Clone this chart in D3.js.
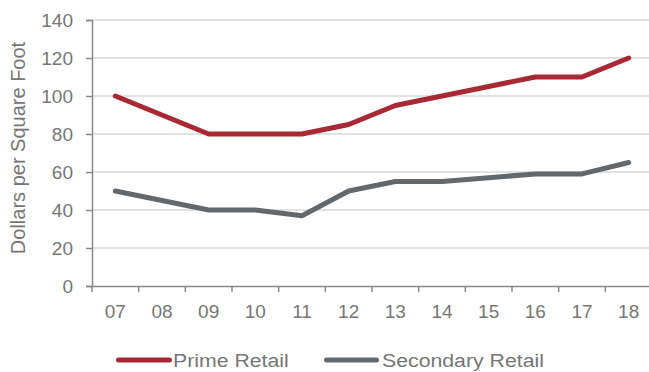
<!DOCTYPE html>
<html>
<head>
<meta charset="utf-8">
<script src="https://cdn.jsdelivr.net/npm/d3@7"></script>
<style>
  html, body { margin: 0; padding: 0; background: #fff; }
  svg { display: block; font-family: "Liberation Sans", Arial, sans-serif; }
</style>
</head>
<body>
<svg id="chart" width="649" height="372"></svg>
<script>
// Rent per square foot, prime vs secondary retail
const years = ["07", "08", "09", "10", "11", "12", "13", "14", "15", "16", "17", "18"];
const primeRetail = [100, 90, 80, 80, 80, 85, 95, 100, 105, 110, 110, 120];
const secondaryRetail = [50, 45, 40, 40, 37, 50, 55, 55, 57, 59, 59, 65];
const yTicks = [0, 20, 40, 60, 80, 100, 120, 140];
const seriesNames = ["Prime Retail", "Secondary Retail"];
const seriesColors = ["#A82833", "#63686C"];

const svg = d3.select("#chart");
const plotLeft = 92, plotRight = 652, plotTop = 20, plotBottom = 286;
const textColor = "#767676";
const fontFamily = "Liberation Sans, Arial, sans-serif";

const x = d3.scaleBand().domain(years).range([plotLeft, plotRight]);
const y = d3.scaleLinear().domain([0, 140]).range([plotBottom, plotTop]);

// horizontal gridlines
svg.append("g")
  .selectAll("line")
  .data(yTicks.filter(d => d > 0))
  .join("line")
  .attr("x1", plotLeft).attr("x2", 649)
  .attr("y1", d => y(d)).attr("y2", d => y(d))
  .attr("stroke", "#d9d9d9").attr("stroke-width", 1.5);

// y axis
const yAxis = svg.append("g")
  .attr("transform", `translate(${plotLeft},0)`)
  .call(d3.axisLeft(y).tickValues(yTicks).tickSize(6).tickPadding(13));
yAxis.select(".domain").attr("stroke", "#888").attr("stroke-width", 1.5);
yAxis.selectAll(".tick line").attr("stroke", "#888").attr("stroke-width", 1.5);
yAxis.selectAll(".tick text")
  .attr("fill", textColor).attr("font-size", 19)
  .attr("font-family", fontFamily);

// x axis: ticks at category boundaries
const xAxis = svg.append("g")
  .attr("transform", `translate(0,${plotBottom})`)
  .call(d3.axisBottom(x).tickSize(0).tickPadding(19));
xAxis.select(".domain").attr("stroke", "#888").attr("stroke-width", 1.5);
xAxis.selectAll(".tick text")
  .attr("fill", textColor).attr("font-size", 19)
  .attr("font-family", fontFamily);
xAxis.selectAll(".boundary")
  .data(years)
  .join("line")
  .attr("x1", d => x(d)).attr("x2", d => x(d))
  .attr("y1", 0).attr("y2", 6)
  .attr("stroke", "#888").attr("stroke-width", 1.5);

// y axis title
svg.append("text")
  .attr("transform", `translate(25,148) rotate(-90)`)
  .attr("text-anchor", "middle")
  .attr("fill", textColor).attr("font-size", 20)
  .text("Dollars per Square Foot");

// series lines
const line = d3.line()
  .x((d, i) => x(years[i]) + x.bandwidth() / 2)
  .y(d => y(d));

[primeRetail, secondaryRetail].forEach((vals, k) => {
  svg.append("path")
    .datum(vals)
    .attr("d", line)
    .attr("fill", "none")
    .attr("stroke", seriesColors[k])
    .attr("stroke-width", 5)
    .attr("stroke-linejoin", "round")
    .attr("stroke-linecap", "round");
});

// legend (text slightly widened)
const legendItems = [
  { name: seriesNames[0], color: seriesColors[0], x0: 118.5, x1: 169.5, tx: 173 },
  { name: seriesNames[1], color: seriesColors[1], x0: 326.5, x1: 376.5, tx: 382 }
];
const legend = svg.append("g");
legendItems.forEach(it => {
  legend.append("line")
    .attr("x1", it.x0).attr("x2", it.x1)
    .attr("y1", 360).attr("y2", 360)
    .attr("stroke", it.color).attr("stroke-width", 5)
    .attr("stroke-linecap", "round");
  legend.append("text")
    .attr("transform", `translate(${it.tx},367) scale(1.12,1)`)
    .attr("fill", textColor).attr("font-size", 19)
    .text(it.name);
});
</script>
</body>
</html>
